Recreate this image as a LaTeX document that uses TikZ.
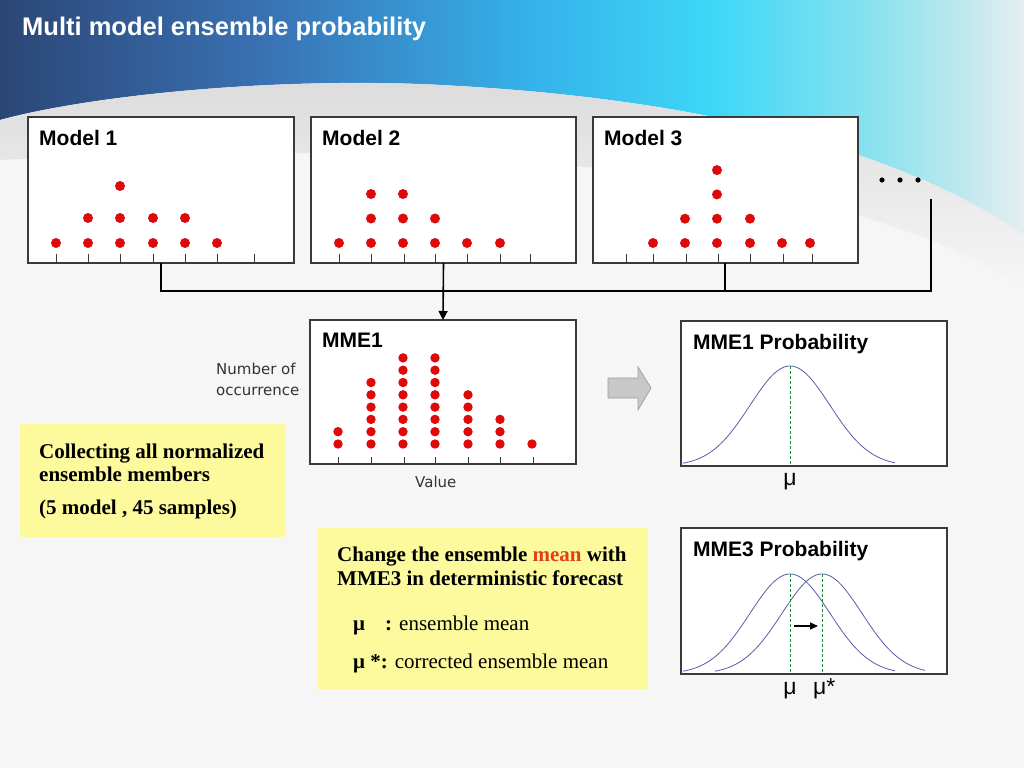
\documentclass[tikz,border=0pt]{standalone}
\usepackage{fontspec}
\setmainfont{Liberation Serif}
\setsansfont{Liberation Sans}
\newfontfamily\dvs{DejaVu Sans}
\usetikzlibrary{arrows.meta}
\definecolor{hA}{HTML}{2B4676}
\definecolor{hB}{HTML}{3A72B4}
\definecolor{hC}{HTML}{35B2EA}
\definecolor{hD}{HTML}{3ED8F8}
\definecolor{hE}{HTML}{8EE2EE}
\definecolor{hF}{HTML}{E4EEEE}
\definecolor{bgc}{HTML}{F6F6F6}
\definecolor{swc}{HTML}{DCDCDC}
\definecolor{boxc}{HTML}{3A3A3A}
\definecolor{dotc}{HTML}{DE0A0A}
\definecolor{yel}{HTML}{FCFA9C}
\definecolor{meanc}{HTML}{E2401A}
\definecolor{curvec}{HTML}{5A5AA8}
\definecolor{dashc}{HTML}{1A8A3A}
\definecolor{arrf}{HTML}{C8C8C8}
\definecolor{arrd}{HTML}{A0A0A0}
\pgfdeclarehorizontalshading{hdr}{100bp}{color(0bp)=(hA); color(25bp)=(hA); color(38bp)=(hB); color(51bp)=(hC); color(60bp)=(hD); color(68bp)=(hE); color(75bp)=(hF); color(100bp)=(hF)}
\tikzset{
  box/.style={draw=boxc, line width=1.2pt, fill=white, inner sep=0pt, outer sep=0pt, anchor=north west},
  yelbox/.style={fill=yel, inner sep=0pt, outer sep=0pt, anchor=north west},
  lbl/.style={anchor=base west, inner sep=0pt, font=\sffamily\bfseries\fontsize{21}{25}\selectfont},
  axlbl/.style={anchor=base west, inner sep=0pt, text=black!80, font=\dvs\fontsize{15}{18}\selectfont},
  sertxt/.style={anchor=base west, inner sep=0pt, font=\fontsize{21}{25}\selectfont},
  mulbl/.style={anchor=base, inner sep=0pt, font=\sffamily\fontsize{23}{26}\selectfont},
  conn/.style={line width=1.6pt, black},
  tick/.style={line width=1pt, boxc},
  bell/.style={line width=0.8pt, curvec},
  meanline/.style={line width=1pt, dashc, dash pattern=on 3pt off 2pt},
}
\newcommand\dotcolumn[5]{% x, ybase, spacing, count, radius
  \foreach \k in {1,...,#4}{\fill[dotc] (#1,{#2-(\k-1)*#3}) circle (#5pt);}}
\begin{document}
\begin{tikzpicture}[x=1pt,y=-1pt]
\useasboundingbox (0,0) rectangle (1024,768);
% background
\fill[bgc] (0,0) rectangle (1024,768);
\shade[shading=hdr] (0,0) -- (1024,0) -- (1024,235) .. controls (900,150) and (700,96) .. (420,84) .. controls (250,78) and (80,98) .. (0,120) -- cycle;
\shade[top color=swc, bottom color=bgc] (0,120) .. controls (80,98) and (250,78) .. (420,84) .. controls (700,96) and (900,150) .. (1024,235) -- (1024,290) .. controls (900,200) and (600,130) .. (0,160) -- cycle;
\node[anchor=base west, inner sep=0pt, text=white, font=\sffamily\bfseries\fontsize{25.5}{30}\selectfont] (title) at (22,36) {Multi model ensemble probability};

% model boxes
\node[box, minimum width=266pt, minimum height=146pt] (m1) at (28,117) {};
\node[box, minimum width=265pt, minimum height=146pt] (m2) at (311,117) {};
\node[box, minimum width=265pt, minimum height=146pt] (m3) at (593,117) {};
\node[lbl] (m1t) at (39,145) {Model 1};
\node[lbl] (m2t) at (322,145) {Model 2};
\node[lbl] (m3t) at (604,145) {Model 3};
\foreach \x in {56,88,120,153,185,217,254} \draw[tick] (\x,254) -- (\x,263);
\foreach \x in {339,371,404,435,467,500,530} \draw[tick] (\x,254) -- (\x,263);
\foreach \x in {626,653,686,718,750,783,812} \draw[tick] (\x,254) -- (\x,263);
% model 1 dots
\foreach \x/\n in {56/1,88/2,153/2,185/2,217/1} {\dotcolumn{\x}{243}{25}{\n}{5}}
\dotcolumn{120}{243}{25}{2}{5}
\fill[dotc] (120,186) circle (5pt);
% model 2 dots
\foreach \x/\n in {339/1,371/3,403/3,435/2,467/1,500/1} {\dotcolumn{\x}{243}{24.5}{\n}{5}}
% model 3 dots
\foreach \x/\n in {653/1,685/2,717/4,750/2,782/1,810/1} {\dotcolumn{\x}{243}{24.3}{\n}{5}}
% ellipsis
\foreach \x in {882,900,918} \fill[black] (\x,180) circle (2.6pt);

% MME1
\node[box, minimum width=266pt, minimum height=144pt] (mme) at (310,320) {};
\node[lbl] (mmet) at (322,347) {MME1};
\foreach \x in {338,371,404,435,468,500,533} \draw[tick] (\x,457) -- (\x,464);
\foreach \x/\n in {338/2,371/6,403/8,435/8,468/5,500/3,532/1} {\dotcolumn{\x}{444}{12.3}{\n}{4.7}}
\node[axlbl] (ylab1) at (216,374) {Number of};
\node[axlbl] (ylab2) at (216,395) {occurrence};
\node[axlbl] (xlab) at (415,487) {Value};

% connectors
\coordinate (ja) at (161,291);
\coordinate (jb) at (931,291);
\coordinate (jc) at (931,199);
\coordinate (jd) at (725,291);
\draw[conn] (m1.south -| ja) -- (ja) -- (jb) -- (jc);
\draw[conn] (m3.south -| jd) -- (jd);
\draw[conn, -{Triangle[length=9pt,width=9pt]}] (m2.south) -- (mme.north);

% gray block arrow
\draw[fill=arrf, draw=arrd, line width=0.8pt] (608,378) -- (638,378) -- (638,367) -- (651,388) -- (638,410) -- (638,398) -- (608,398) -- cycle;

% MME1 probability
\node[box, minimum width=266pt, minimum height=145pt] (p1) at (681,321) {};
\node[lbl] (p1t) at (693,349) {MME1 Probability};
\draw[bell] plot[domain=683:895, samples=120] (\x,{466-100*exp(-0.5*((\x-790)/40)*((\x-790)/40))});
\draw[meanline] (790,366) -- (790,466);
\node[mulbl] (mu1) at (790,485) {μ};

% MME3 probability
\node[box, minimum width=266pt, minimum height=146pt] (p3) at (681,528) {};
\node[lbl] (p3t) at (693,556) {MME3 Probability};
\draw[bell] plot[domain=683:895, samples=120] (\x,{674-100*exp(-0.5*((\x-790)/40)*((\x-790)/40))});
\draw[bell] plot[domain=715:925, samples=120] (\x,{674-100*exp(-0.5*((\x-822)/40)*((\x-822)/40))});
\draw[meanline] (790,574) -- (790,674);
\draw[meanline] (822,574) -- (822,674);
\draw[line width=1.4pt, -{Triangle[length=8pt,width=7pt]}] (794,626) -- (818,626);
\node[mulbl] (mu3) at (790,694) {μ};
\node[mulbl, anchor=base west] (mu3s) at (813,694) {μ*};

% yellow boxes
\node[yelbox, minimum width=265pt, minimum height=113pt] (y1) at (20,424) {};
\node[sertxt, font=\bfseries\fontsize{21}{25}\selectfont] (y1a) at (39,458) {Collecting all normalized};
\node[sertxt, font=\bfseries\fontsize{21}{25}\selectfont] (y1b) at (39,481) {ensemble members};
\node[sertxt, font=\bfseries\fontsize{21}{25}\selectfont] (y1c) at (39,514) {(5 model , 45 samples)};

\node[yelbox, minimum width=330pt, minimum height=161pt] (y2) at (318,528) {};
\node[sertxt, font=\bfseries\fontsize{21}{25}\selectfont] (y2a) at (337,561) {Change the ensemble \textcolor{meanc}{mean} with};
\node[sertxt, font=\bfseries\fontsize{21}{25}\selectfont] (y2b) at (337,585) {MME3 in deterministic forecast};
\node[sertxt] (y2c) at (353,630) {\makebox[32pt][l]{\textbf{μ}}\textbf{:} ensemble mean};
\node[sertxt] (y2d) at (353,668) {\textbf{μ *:} corrected ensemble mean};
\end{tikzpicture}
\end{document}
